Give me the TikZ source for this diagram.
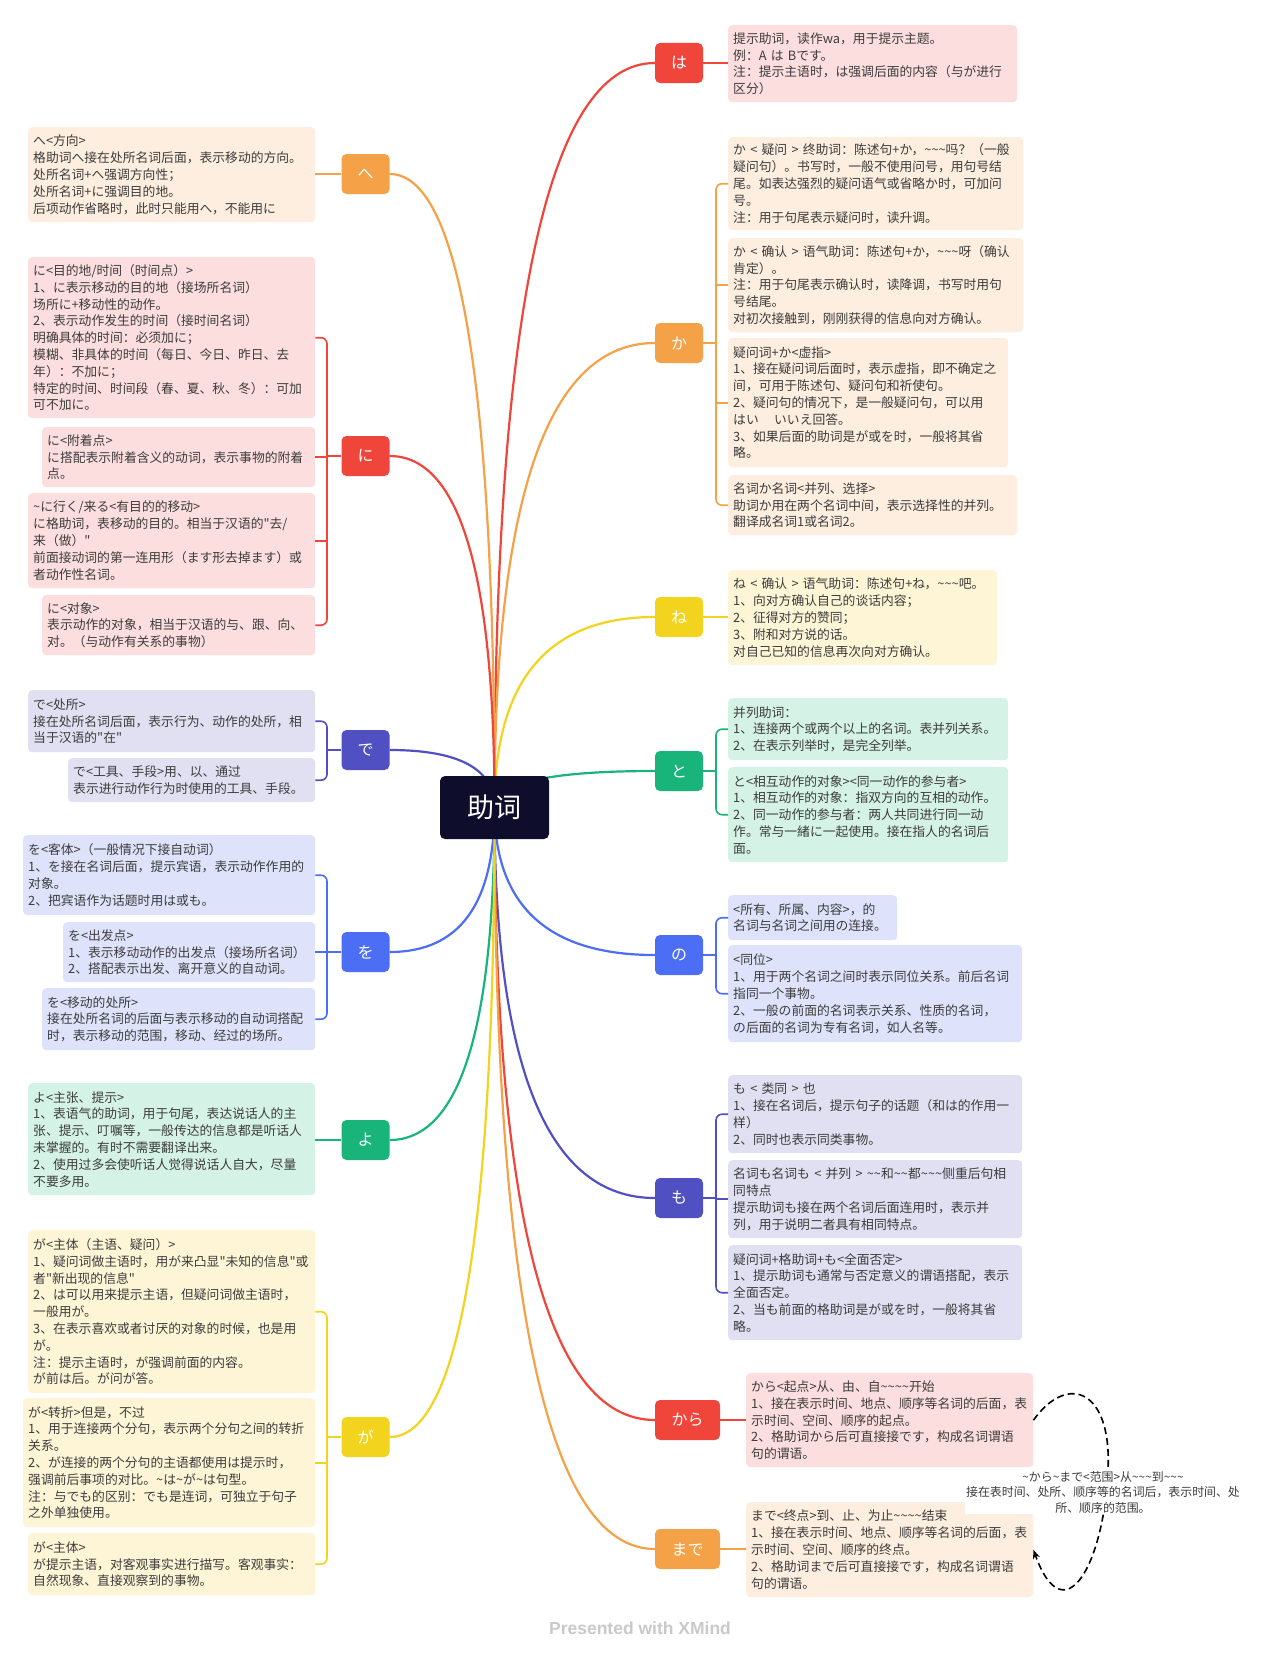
\documentclass[tikz,border=0pt]{standalone}
\usepackage{fontspec}
\setmainfont{Noto Sans CJK SC}[Ligatures=TeXOff]
\newfontfamily\footfont{Liberation Sans}
\usetikzlibrary{calc,arrows.meta}
\pgfdeclarelayer{back}
\pgfdeclarelayer{bg}
\pgfsetlayers{back,bg,main}
\definecolor{cred}{HTML}{F0453A}
\definecolor{corange}{HTML}{F5A147}
\definecolor{cyellow}{HTML}{F2D31D}
\definecolor{cgreen}{HTML}{19B47A}
\definecolor{cblue}{HTML}{4B6EF5}
\definecolor{cindigo}{HTML}{5150C2}
\definecolor{fred}{HTML}{FCDEDE}
\definecolor{forange}{HTML}{FDEEDF}
\definecolor{fyellow}{HTML}{FEF5D6}
\definecolor{fgreen}{HTML}{D4F2E6}
\definecolor{fblue}{HTML}{DEE3FB}
\definecolor{findigo}{HTML}{E0E0F2}
\definecolor{cnavy}{HTML}{0E0E2C}
\definecolor{txt}{HTML}{3C3C3C}
\definecolor{cfoot}{HTML}{C9C9C9}
\newcommand\tld{\textasciitilde}
\tikzset{
  tb/.style={rounded corners=4pt, anchor=north west, align=left, inner xsep=5pt, inner ysep=0pt, text=txt, font=\fontsize{12.8}{16.8}\selectfont},
  br/.style={rounded corners=5pt, minimum width=48pt, minimum height=40pt, inner sep=0pt, text=white, font=\fontsize{16}{18}\selectfont},
  conn/.style={line width=2.2pt},
  tick/.style={line width=1.6pt},
}
\newcommand\tbx[7]{%
  \pgfmathsetmacro\tbw{#5-10}%
  \node[tb, fill=#2, text width=\tbw pt, minimum width=#5pt, minimum height=#6pt] (#1) at (#3,#4) {#7};}
\newcommand\rcn[2]{\draw[conn,#2] (c.center) .. controls ($(c.center)!0.667!(c.center |- #1.west)$) and ($(#1.west)!0.667!(c.center |- #1.west)$) .. (#1.west);}
\newcommand\lcn[2]{\draw[conn,#2] (c.center) .. controls ($(c.center)!0.667!(c.center |- #1.east)$) and ($(#1.east)!0.667!(c.center |- #1.east)$) .. (#1.east);}
\begin{document}
\begin{tikzpicture}[x=1pt,y=-1pt]
\useasboundingbox (0,0) rectangle (1280,1654);
\begin{pgfonlayer}{back}
\fill[white] (0,0) rectangle (1280,1654);
\end{pgfonlayer}
\coordinate (lbx) at (327,0);
\coordinate (rbx) at (716,0);

% center
\node[fill=cnavy, rounded corners=5pt, minimum width=109pt, minimum height=63pt, inner sep=0pt, text=white, font=\fontsize{27}{30}\selectfont] (c) at (494.5,807.5) {助词};

% branch nodes right
\node[br, fill=cred] (ha) at (679,63) {は};
\node[br, fill=corange] (ka) at (679,343) {か};
\node[br, fill=cyellow] (ne) at (679,617) {ね};
\node[br, fill=cgreen] (to) at (679,771) {と};
\node[br, fill=cblue] (no) at (679,955) {の};
\node[br, fill=cindigo] (mo) at (679,1198) {も};
\node[br, fill=cred, minimum width=65pt] (kara) at (687.5,1420) {から};
\node[br, fill=corange, minimum width=65pt] (made) at (687.5,1549) {まで};
% branch nodes left
\node[br, fill=corange] (he) at (365.5,174) {へ};
\node[br, fill=cred] (ni) at (365.5,456) {に};
\node[br, fill=cindigo] (de) at (365.5,750) {で};
\node[br, fill=cblue] (wo) at (365.5,952) {を};
\node[br, fill=cgreen] (yo) at (365.5,1140) {よ};
\node[br, fill=cyellow] (ga) at (365.5,1437) {が};

% left boxes
\tbx{heb}{forange}{28}{127}{287}{95}{へ<方向>\\格助词へ接在处所名词后面，表示移动的方向。\\处所名词+へ强调方向性；\\处所名词+に强调目的地。\\后项动作省略时，此时只能用へ，不能用に}
\tbx{ni1}{fred}{28}{257}{287}{161}{に<目的地/时间（时间点）>\\1、に表示移动的目的地（接场所名词）\\场所に+移动性的动作。\\2、表示动作发生的时间（接时间名词）\\明确具体的时间：必须加に；\\模糊、非具体的时间（每日、今日、昨日、去\\年）：不加に；\\特定的时间、时间段（春、夏、秋、冬）：可加\\可不加に。}
\tbx{ni2}{fred}{42}{427}{273}{60}{に<附着点>\\に搭配表示附着含义的动词，表示事物的附着\\点。}
\tbx{ni3}{fred}{28}{493}{287}{95}{\tld{}に行く/来る<有目的的移动>\\に格助词，表移动的目的。相当于汉语的"去/\\来（做）"\\前面接动词的第一连用形（ます形去掉ます）或\\者动作性名词。}
\tbx{ni4}{fred}{42}{595}{273}{60}{に<对象>\\表示动作的对象，相当于汉语的与、跟、向、\\对。（与动作有关系的事物）}
\tbx{de1}{findigo}{28}{690}{287}{62}{で<处所>\\接在处所名词后面，表示行为、动作的处所，相\\当于汉语的"在"}
\tbx{de2}{findigo}{68}{758}{247}{44}{で<工具、手段>用、以、通过\\表示进行动作行为时使用的工具、手段。}
\tbx{wo1}{fblue}{23}{835}{292}{80}{を<客体>（一般情况下接自动词）\\1、を接在名词后面，提示宾语，表示动作作用的\\对象。\\2、把宾语作为话题时用は或も。}
\tbx{wo2}{fblue}{63}{922}{252}{60}{を<出发点>\\1、表示移动动作的出发点（接场所名词）\\2、搭配表示出发、离开意义的自动词。}
\tbx{wo3}{fblue}{42}{988}{273}{62}{を<移动的处所>\\接在处所名词的后面与表示移动的自动词搭配\\时，表示移动的范围，移动、经过的场所。}
\tbx{yob}{fgreen}{28}{1083}{287}{112}{よ<主张、提示>\\1、表语气的助词，用于句尾，表达说话人的主\\张、提示、叮嘱等，一般传达的信息都是听话人\\未掌握的。有时不需要翻译出来。\\2、使用过多会使听话人觉得说话人自大，尽量\\不要多用。}
\tbx{ga1}{fyellow}{28}{1230}{287}{163}{が<主体（主语、疑问）>\\1、疑问词做主语时，用が来凸显"未知的信息"或\\者"新出现的信息"\\2、は可以用来提示主语，但疑问词做主语时，\\一般用が。\\3、在表示喜欢或者讨厌的对象的时候，也是用\\が。\\注：提示主语时，が强调前面的内容。\\が前は后。が问が答。}
\tbx{ga2}{fyellow}{23}{1398}{292}{129}{が<转折>但是，不过\\1、用于连接两个分句，表示两个分句之间的转折\\关系。\\2、が连接的两个分句的主语都使用は提示时，\\强调前后事项的对比。\tld{}は\tld{}が\tld{}は句型。\\注：与でも的区别：でも是连词，可独立于句子\\之外单独使用。}
\tbx{ga3}{fyellow}{28}{1533}{287}{62}{が<主体>\\が提示主语，对客观事实进行描写。客观事实：\\自然现象、直接观察到的事物。}

% right boxes
\tbx{hab}{fred}{728}{25}{289}{77}{提示助词，读作wa，用于提示主题。\\例：A~は~Bです。\\注：提示主语时，は强调后面的内容（与が进行\\区分）}
\tbx{ka1}{forange}{728}{137}{295}{93}{か~<~疑问~>~终助词：陈述句+か，\tld\tld\tld{}吗？（一般\\疑问句）。书写时，一般不使用问号，用句号结\\尾。如表达强烈的疑问语气或省略か时，可加问\\号。\\注：用于句尾表示疑问时，读升调。}
\tbx{ka2}{forange}{728}{238}{295}{94}{か~<~确认~>~语气助词：陈述句+か，\tld\tld\tld{}呀（确认\\肯定）。\\注：用于句尾表示确认时，读降调，书写时用句\\号结尾。\\对初次接触到，刚刚获得的信息向对方确认。}
\tbx{ka3}{forange}{728}{338}{280}{129}{疑问词+か<虚指>\\1、接在疑问词后面时，表示虚指，即不确定之\\间，可用于陈述句、疑问句和祈使句。\\2、疑问句的情况下，是一般疑问句，可以用\\はい\hspace{1.2em}いいえ回答。\\3、如果后面的助词是が或を时，一般将其省\\略。}
\tbx{ka4}{forange}{728}{475}{289}{60}{名词か名词<并列、选择>\\助词か用在两个名词中间，表示选择性的并列。\\翻译成名词1或名词2。}
\tbx{neb}{fyellow}{728}{570}{269}{95}{ね~<~确认~>~语气助词：陈述句+ね，\tld\tld\tld{}吧。\\1、向对方确认自己的谈话内容；\\2、征得对方的赞同；\\3、附和对方说的话。\\对自己已知的信息再次向对方确认。}
\tbx{to1}{fgreen}{728}{698}{280}{62}{并列助词：\\1、连接两个或两个以上的名词。表并列关系。\\2、在表示列举时，是完全列举。}
\tbx{to2}{fgreen}{728}{767}{280}{95}{と<相互动作的对象><同一动作的参与者>\\1、相互动作的对象：指双方向的互相的动作。\\2、同一动作的参与者：两人共同进行同一动\\作。常与一緒に一起使用。接在指人的名词后\\面。}
\tbx{no1}{fblue}{728}{895}{169}{45}{<所有、所属、内容>，的\\名词与名词之间用の连接。}
\tbx{no2}{fblue}{728}{945}{294}{97}{<同位>\\1、用于两个名词之间时表示同位关系。前后名词\\指同一个事物。\\2、一般の前面的名词表示关系、性质的名词，\\の后面的名词为专有名词，如人名等。}
\tbx{mo1}{findigo}{728}{1075}{294}{78}{も~<~类同~>~也\\1、接在名词后，提示句子的话题（和は的作用一\\样）\\2、同时也表示同类事物。}
\tbx{mo2}{findigo}{728}{1160}{294}{78}{名词も名词も~<~并列~>~\tld\tld{}和\tld\tld{}都\tld\tld\tld{}侧重后句相\\同特点\\提示助词も接在两个名词后面连用时，表示并\\列，用于说明二者具有相同特点。}
\tbx{mo3}{findigo}{728}{1245}{294}{95}{疑问词+格助词+も<全面否定>\\1、提示助词も通常与否定意义的谓语搭配，表示\\全面否定。\\2、当も前面的格助词是が或を时，一般将其省\\略。}
\tbx{karab}{fred}{746}{1373}{287}{94}{から<起点>从、由、自\tld\tld\tld\tld{}开始\\1、接在表示时间、地点、顺序等名词的后面，表\\示时间、空间、顺序的起点。\\2、格助词から后可直接接です，构成名词谓语\\句的谓语。}
\tbx{madeb}{forange}{746}{1502}{287}{95}{まで<终点>到、止、为止\tld\tld\tld\tld{}结束\\1、接在表示时间、地点、顺序等名词的后面，表\\示时间、空间、顺序的终点。\\2、格助词まで后可直接接です，构成名词谓语\\句的谓语。}

% connectors from center
\begin{pgfonlayer}{bg}
\rcn{ha}{cred}
\rcn{ka}{corange}
\rcn{ne}{cyellow}
\rcn{to}{cgreen}
\rcn{no}{cblue}
\rcn{mo}{cindigo}
\rcn{kara}{cred}
\rcn{made}{corange}
\lcn{he}{corange}
\lcn{ni}{cred}
\lcn{de}{cindigo}
\lcn{wo}{cblue}
\lcn{yo}{cgreen}
\lcn{ga}{cyellow}
\end{pgfonlayer}

% single connections
\draw[tick,corange] (he.west) -- (he.west -| heb.east);
\draw[tick,cgreen] (yo.west) -- (yo.west -| yob.east);
\draw[tick,cred] (ha.east) -- (ha.east -| hab.west);
\draw[tick,cyellow] (ne.east) -- (ne.east -| neb.west);
\draw[tick,cred] (kara.east) -- (kara.east -| karab.west);
\draw[tick,corange] (made.east) -- (made.east -| madeb.west);

% left brackets
\draw[tick,cred,rounded corners=6pt] (ni1.east) -- (ni1.east -| lbx) -- (ni4.east -| lbx) -- (ni4.east);
\draw[tick,cred] (ni2.east) -- (ni2.east -| lbx) (ni3.east) -- (ni3.east -| lbx) (ni.west) -- (ni.west -| lbx);
\draw[tick,cindigo,rounded corners=6pt] (de1.east) -- (de1.east -| lbx) -- (de2.east -| lbx) -- (de2.east);
\draw[tick,cindigo] (de.west) -- (de.west -| lbx);
\draw[tick,cblue,rounded corners=6pt] (wo1.east) -- (wo1.east -| lbx) -- (wo3.east -| lbx) -- (wo3.east);
\draw[tick,cblue] (wo2.east) -- (wo2.east -| lbx) (wo.west) -- (wo.west -| lbx);
\draw[tick,cyellow,rounded corners=6pt] (ga1.east) -- (ga1.east -| lbx) -- (ga3.east -| lbx) -- (ga3.east);
\draw[tick,cyellow] (ga2.east) -- (ga2.east -| lbx) (ga.west) -- (ga.west -| lbx);

% right brackets
\draw[tick,corange,rounded corners=6pt] (ka1.west) -- (ka1.west -| rbx) -- (ka4.west -| rbx) -- (ka4.west);
\draw[tick,corange] (ka2.west) -- (ka2.west -| rbx) (ka3.west) -- (ka3.west -| rbx) (ka.east) -- (ka.east -| rbx);
\draw[tick,cgreen,rounded corners=6pt] (to1.west) -- (to1.west -| rbx) -- (to2.west -| rbx) -- (to2.west);
\draw[tick,cgreen] (to.east) -- (to.east -| rbx);
\draw[tick,cblue,rounded corners=6pt] (no1.west) -- (no1.west -| rbx) -- (no2.west -| rbx) -- (no2.west);
\draw[tick,cblue] (no.east) -- (no.east -| rbx);
\draw[tick,cindigo,rounded corners=6pt] (mo1.west) -- (mo1.west -| rbx) -- (mo3.west -| rbx) -- (mo3.west);
\draw[tick,cindigo] (mo2.west) -- (mo2.west -| rbx) (mo.east) -- (mo.east -| rbx);

% relationship
\draw[line width=1.6pt, dash pattern=on 7pt off 4pt, -{Stealth[length=9pt,width=7pt]}] (karab.east) .. controls (1068,1372) and (1112,1390) .. (1108,1470) .. controls (1104,1565) and (1064,1635) .. (madeb.east);
\node[fill=white, inner sep=1pt, align=center, text=txt, font=\fontsize{11.9}{15.5}\selectfont] (note) at (1103,1492) {\tld{}から\tld{}まで<范围>从\tld\tld\tld{}到\tld\tld\tld\\接在表时间、处所、顺序等的名词后，表示时间、处\\所、顺序的范围。};

\node[text=cfoot, font=\footfont\fontsize{17.5}{20}\selectfont\bfseries] (foot) at (640,1628) {Presented with XMind};
\end{tikzpicture}
\end{document}
